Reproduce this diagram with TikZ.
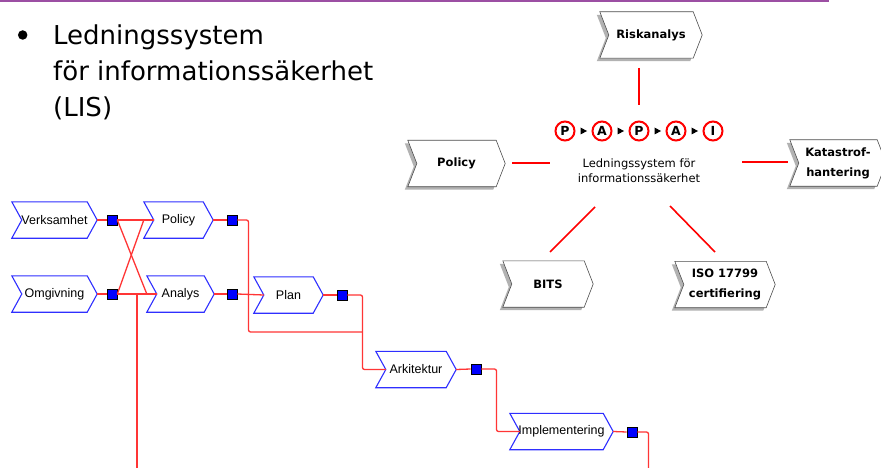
\documentclass[tikz,border=0pt]{standalone}
\usepackage{fontspec}
\setmainfont{DejaVu Sans}
\newfontfamily\lisfont{Liberation Sans}
\usetikzlibrary{backgrounds,calc}
\definecolor{lred}{HTML}{FF3535}
\definecolor{lblue}{HTML}{2F2FFF}
\definecolor{purp}{HTML}{9C4FA3}
\definecolor{sqblue}{HTML}{0000FF}
% chevron outline: node, depth, dx, dy
\newcommand\chevpath[4]{([shift={(#3,#4)}]#1.north west) -- ([shift={(#3-#2,#4)}]#1.north east) -- ([shift={(#3,#4)}]#1.east) -- ([shift={(#3-#2,#4)}]#1.south east) -- ([shift={(#3,#4)}]#1.south west) -- ([shift={(#3+#2,#4)}]#1.west) -- cycle}
\tikzset{
  blab/.style={font=\lisfont\fontsize{12.5}{12.5}\selectfont, inner sep=0pt, minimum height=36pt},
  bluechev/.style={draw=lblue, fill=white, line width=1.1pt},
  sq/.style={draw=black, fill=sqblue, minimum size=10pt, inner sep=0pt, line width=0.7pt},
  conn/.style={draw=lred, line width=1.3pt, rounded corners=2pt},
  rlab/.style={font=\bfseries\fontsize{11.5}{20}\selectfont, align=center, inner sep=0pt, minimum height=46pt},
  graychev/.style={draw=black!70, fill=white, line width=0.6pt},
  shadowchev/.style={fill=black!30},
  rconn/.style={draw=red, line width=1.6pt},
  pcirc/.style={circle, draw=red, line width=2pt, fill=white, minimum size=19pt, inner sep=0pt, font=\bfseries\fontsize{12.5}{12.5}\selectfont},
  titletext/.style={anchor=base west, inner sep=0pt, font=\fontsize{26}{36}\selectfont},
}
\begin{document}
\begin{tikzpicture}[x=1pt, y=-1pt]
\useasboundingbox (0,0) rectangle (881,468);
\clip (0,0) rectangle (881,468);
\begin{scope}[on background layer]
  \fill[white] (0,0) rectangle (881,468);
\end{scope}
\fill[purp] (0,0) rectangle (829,2.5);

% title
\node[circle, fill=black, minimum size=9.5pt, inner sep=0pt] (bul) at (22.7,35) {};
\node[titletext] (t1) at (53,45) {Ledningssystem};
\node[titletext] (t2) at (53,81) {för informationssäkerhet};
\node[titletext] (t3) at (53,117) {(LIS)};

% ---------- left process diagram ----------
\node[blab, minimum width=85pt] (verk) at (54.5,220) {Verksamhet};
\node[blab, minimum width=69pt] (polL) at (178.5,220) {Policy};
\node[blab, minimum width=85pt] (omg) at (54.5,294) {Omgivning};
\node[blab, minimum width=67pt] (ana) at (180.5,294) {Analys};
\node[blab, minimum width=69pt] (plan) at (288.5,295) {Plan};
\node[blab, minimum width=80pt] (ark) at (416,369.5) {Arkitektur};
\node[blab, minimum width=103pt] (imp) at (561.5,431.5) {Implementering};
\begin{scope}[on background layer]
  \foreach \n in {verk,polL,omg,ana,plan,ark,imp}{
    \draw[bluechev] \chevpath{\n}{10}{0}{0};
  }
\end{scope}

\node[sq] (s1) at (112,220) {};
\node[sq] (s2) at (232,220) {};
\node[sq] (s3) at (112,294) {};
\node[sq] (s4) at (232,294) {};
\node[sq] (s5) at (342,295) {};
\node[sq] (s6) at (476,369) {};
\node[sq] (s7) at (632,432) {};

\coordinate (j1) at (248.5,332);
\coordinate (j2) at (362.5,332);
\coordinate (j4) at (362.5,369.5);
\coordinate (j5) at (496.5,431.5);
\coordinate (e1) at (648.5,468);
\coordinate (v1) at (137,294);
\coordinate (v2) at (137,469);

\draw[conn] (verk.east) -- (s1.west);
\draw[conn] (s1.east) -- ([xshift=10pt]polL.west);
\draw[conn] (s1.east) -- (ana.west);
\draw[conn] (omg.east) -- (s3.west);
\draw[conn] (s3.east) -- ([xshift=10pt]ana.west);
\draw[conn] (s3.east) -- (polL.west);
\draw[conn, line width=1.8pt] (v1) -- (v2);
\draw[conn] (polL.east) -- (s2.west);
\draw[conn] (s2.east) -| (j1) -- (j2);
\draw[conn] (ana.east) -- (s4.west);
\draw[conn] (s4.east) -- ([xshift=10pt]plan.west);
\draw[conn] (plan.east) -- (s5.west);
\draw[conn] (s5.east) -| (j4) -- ([xshift=10pt]ark.west);
\draw[conn] (ark.east) -- (s6.west);
\draw[conn] (s6.east) -| (j5) -- ([xshift=10pt]imp.west);
\draw[conn] (imp.east) -- (s7.west);
\draw[conn] (s7.east) -| (e1);

% ---------- right LIS diagram ----------
\node[rlab, minimum width=102pt] (risk) at (651,35) {Riskanalys};
\node[rlab, minimum width=97pt] (polR) at (456.5,163.5) {Policy};
\node[rlab, minimum width=96pt] (kat) at (838,163) {Katastrof-\\hantering};
\node[rlab, minimum width=90pt] (bits) at (548,284) {BITS};
\node[rlab, minimum width=100pt] (iso) at (725,284.5) {ISO 17799\\certifiering};
\begin{scope}[on background layer]
  \foreach \n in {risk,polR,kat,bits,iso}{
    \fill[shadowchev] \chevpath{\n}{9}{-3}{3};
    \draw[graychev] \chevpath{\n}{9}{0}{0};
  }
\end{scope}

% PAPAI
\node[pcirc] (c1) at (565,131) {P};
\node[pcirc] (c2) at (602,131) {A};
\node[pcirc] (c3) at (639,131) {P};
\node[pcirc] (c4) at (676,131) {A};
\node[pcirc] (c5) at (713,131) {I};
\foreach \a/\b in {c1/c2,c2/c3,c3/c4,c4/c5}{
  \fill ($(\a)!0.5!(\b)+(-3,-3.5)$) -- ++(6.5,3.5) -- ++(-6.5,3.5) -- cycle;
}
\node[font=\fontsize{11.5}{15}\selectfont, align=center, inner sep=0pt] (lis) at (639,170.5) {Ledningssystem för\\informationssäkerhet};

\coordinate (r1a) at (639,68);  \coordinate (r1b) at (639,105);
\coordinate (r2a) at (512,163); \coordinate (r2b) at (550,163);
\coordinate (r3a) at (742,162); \coordinate (r3b) at (788,162);
\coordinate (r4a) at (595,207); \coordinate (r4b) at (550,252);
\coordinate (r5a) at (670,206); \coordinate (r5b) at (715,252);
\draw[rconn] (r1a) -- (r1b);
\draw[rconn] (r2a) -- (r2b);
\draw[rconn] (r3a) -- (r3b);
\draw[rconn] (r4a) -- (r4b);
\draw[rconn] (r5a) -- (r5b);
\end{tikzpicture}
\end{document}
